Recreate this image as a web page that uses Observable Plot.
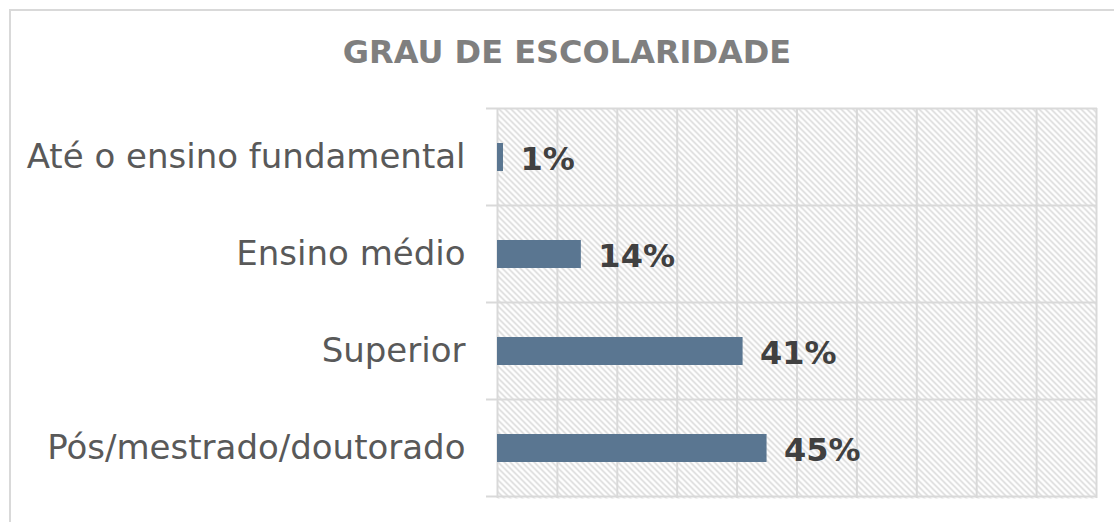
<!DOCTYPE html>
<html>
<head>
<meta charset="utf-8">
<script src="https://cdn.jsdelivr.net/npm/d3@7"></script>
<script src="https://cdn.jsdelivr.net/npm/@observablehq/plot@0.6"></script>
<style>
  html, body { margin: 0; padding: 0; background: #fff; }
  #wrap { position: relative; width: 1114px; height: 522px; overflow: hidden; font-family: "DejaVu Sans", sans-serif; }
  #frame { position: absolute; left: 9px; top: 9px; width: 1200px; height: 600px; border-left: 2px solid #d9d9d9; border-top: 2px solid #d9d9d9; }
  #title { position: absolute; left: 0; width: 1134px; top: 33px; text-align: center; font-size: 32px; font-weight: bold; color: #7f7f7f; }
  #chart { position: absolute; left: 0; top: 0; }
</style>
</head>
<body>
<div id="wrap">
  <div id="frame"></div>
  <div id="title">GRAU DE ESCOLARIDADE</div>
  <div id="chart"></div>
</div>
<script>
const categories = ["Até o ensino fundamental", "Ensino médio", "Superior", "Pós/mestrado/doutorado"];
const values = [1, 14, 41, 45];
const xTicks = [0, 10, 20, 30, 40, 50, 60, 70, 80, 90, 100];

const data = categories.map((c, i) => ({category: c, value: values[i]}));

function bandLines(index, scales, values, dimensions) {
  const y = scales.y, x = scales.x;
  const ys = categories.map(c => y(c));
  const step = ys[1] - ys[0];
  const bw = y.bandwidth ? y.bandwidth() : (scales.scales && scales.scales.y && scales.scales.y.bandwidth) || 0;
  const gap = (step - bw) / 2;
  const bounds = ys.map(v => v - gap).concat([ys[ys.length - 1] + bw + gap]);
  const g = d3.create("svg:g");
  g.selectAll("line").data(bounds).join("line")
    .attr("x1", x(0) - 11).attr("x2", x(100) + 1)
    .attr("y1", d => d).attr("y2", d => d)
    .attr("stroke", "#d9d9d9").attr("stroke-width", 2);
  return g.node();
}

const chart = Plot.plot({
  width: 1114,
  height: 522,
  marginLeft: 497,
  marginRight: 18,
  marginTop: 108,
  marginBottom: 24,
  style: {background: "transparent", fontFamily: "DejaVu Sans, sans-serif", overflow: "visible"},
  x: {domain: [0, 100], axis: null},
  y: {domain: categories, paddingInner: 0.71, paddingOuter: 0.355, label: null},
  marks: [
    Plot.frame({fill: "url(#hatch)", stroke: null}),
    Plot.ruleX(xTicks, {stroke: "#d9d9d9", strokeWidth: 2, strokeOpacity: 1}),
    bandLines,
    Plot.barX(data, {x: "value", y: "category", fill: "#5a7691"}),
    Plot.text(data, {x: "value", y: "category", text: d => d.value + "%", textAnchor: "start", dx: 17, dy: 2, fontSize: 32, fontWeight: "bold", fill: "#404040"}),
    Plot.axisY({tickSize: 0, tickPadding: 32, fontSize: 34, color: "#595959", label: null})
  ]
});

const svg = d3.select(chart);
const defs = svg.insert("defs", ":first-child");
const pat = defs.append("pattern").attr("id", "hatch").attr("patternUnits", "userSpaceOnUse")
  .attr("width", 6).attr("height", 6);
pat.append("rect").attr("width", 6).attr("height", 6).attr("fill", "#fff");
pat.append("path").attr("d", "M-1,-1 L7,7 M-1,5 L1,7 M5,-1 L7,1")
  .attr("stroke", "#d4d4d4").attr("stroke-width", 1.4);

document.getElementById("chart").appendChild(chart);
</script>
</body>
</html>
